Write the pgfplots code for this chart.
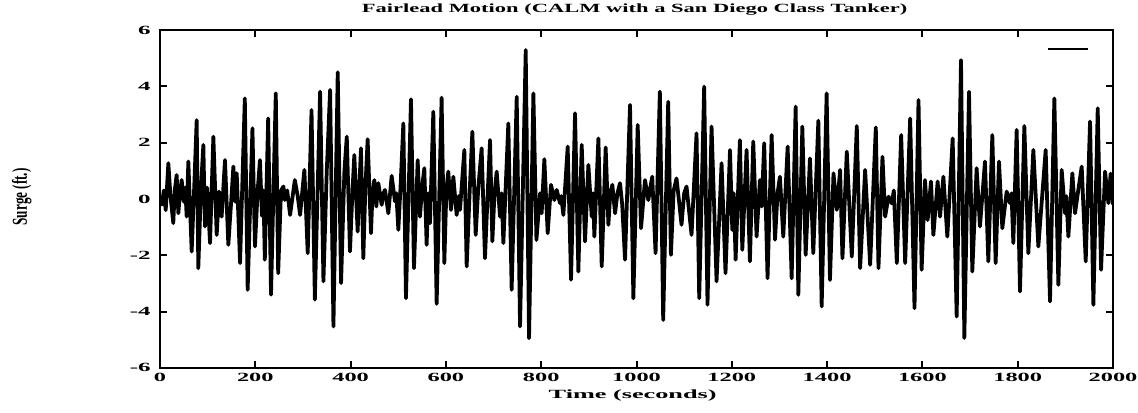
\documentclass[border=0pt]{standalone}
\usepackage{fontspec}
\setmainfont{Liberation Serif}
\usepackage{graphicx}
\usepackage{pgfplots}
\pgfplotsset{compat=1.18}
\pgfplotstableread{
t v
0 0
4 -0.2
8 0.3
12 -0.4
17.5 1.27
22 0.1
27.9 -0.86
31 0.3
35 0.85
38.5 -0.51
42 0.2
45.5 0.67
50 -0.1
53 0.4
56 -0.63
59.5 1.33
66.5 -1.87
72 0.5
77 2.80
80.4 -2.46
86 0.4
91 1.92
94.4 -0.98
99 0.4
105 -1.57
112 2.21
119 -1.28
124 0.26
129.4 -0.63
136.4 1.38
143.4 -1.63
149 -0.2
154 1.15
158 -0.1
161 0.91
164 -0.4
168 -2.28
178 3.57
184 -3.23
194 2.51
199.3 -1.69
205 0.3
209.8 1.38
214 -0.6
217 0.3
220 -2.16
227 2.86
233 -3.4
243 3.75
248 -2.64
254 0.3
259 0.44
262 -0.04
267 0.3
273 -0.57
283 0.67
289 0.1
294 -0.57
303 1.03
310 -1.93
318 3.16
325 -3.58
336 3.81
343 -2.93
350 1.0
357 3.87
364 -4.53
373 4.5
380 -2.99
387 1.0
392 2.21
398.7 -1.87
404 0.3
407.8 1.56
414.8 -1.16
418 0.3
421.8 1.80
426.7 -2.11
431 0.4
435.8 2.12
442.8 -1.22
446 0.2
449.8 0.67
454 -0.27
458.2 0.56
465.2 -0.21
469 0.2
472.2 0.32
479.2 -0.51
486.2 0.82
493.2 -0.09
496 0.2
500.2 -1.10
505 0.5
510.7 2.68
516.2 -3.53
526.7 3.54
533 -2.46
540.8 1.38
545.6 -0.63
550 0.4
554.7 1.09
559.6 -1.63
563 0.2
566.6 -0.86
573.6 3.10
580.6 -3.73
591 3.60
596.7 -2.28
601 0.3
605 0.97
610.7 -0.39
615.6 0.79
622.6 -0.57
627 0.1
629.6 -0.39
638.7 1.74
643.6 -2.40
650 0.3
655.5 2.39
662.5 -1.28
668 0.4
675 1.80
682 -2.11
688 0.3
692.6 2.09
697.5 -1.51
702 0.2
706.6 0.97
713.6 -0.63
717 0.2
720.6 -1.57
731 2.68
738 -3.23
748.6 3.63
755.6 -4.53
767.5 5.29
774.5 -4.95
783.6 3.75
790 -1.46
797.5 0.20
801 -0.51
806.6 1.41
813.6 -1.22
820.6 0.50
827.6 -0.04
832.5 0.32
839.5 -0.15
842 0.1
846.5 -0.57
855.6 1.86
862.6 -2.87
871 3.04
878 -2.58
885 1.92
892 -1.51
899 1.21
906 -0.63
909 0.2
911.5 -1.34
920 2.15
927 -2.40
935.3 1.83
941 -0.92
945 0.2
949.3 0.50
955 -0.51
960 0.2
965.4 0.56
970 -0.2
975.9 -2.16
986.4 3.34
993.4 -3.53
1002.5 2.63
1009.5 -1.04
1017.8 0.67
1024.8 -0.04
1028 0.3
1033 0.79
1040 -1.93
1049 3.81
1056 -4.30
1066.5 3.45
1072.2 -1.99
1078 0.3
1084 0.73
1090 -0.2
1094.5 -0.92
1100 0.2
1105 0.44
1115.5 -1.28
1126 2.33
1131.6 -3.53
1142 3.99
1149 -3.76
1157.5 2.57
1168 -2.93
1178.5 1.27
1186.8 -2.64
1196.2 1.74
1201 -1.10
1204 0.2
1208 -2.16
1217 2.09
1222 -1.81
1231 1.74
1238 -2.22
1245 2.04
1252 -1.34
1259 0.67
1262.7 -0.27
1268 1.98
1275 -2.82
1283.6 2.27
1290.7 -1.45
1296 0.2
1301 0.79
1308 -1.34
1317.2 1.86
1325.6 -2.82
1334 3.28
1339.6 -3.41
1348 2.57
1355 -1.99
1364 1.44
1371 -1.93
1381.6 2.78
1388.6 -3.82
1399 3.75
1406 -2.88
1413.4 0.91
1420.4 -0.39
1427.3 1.03
1432.2 -2.11
1441.3 1.68
1451.8 -2.05
1462.3 2.59
1469.3 -2.46
1479.8 1.03
1490.3 -2.34
1502.2 2.54
1507.8 -2.46
1516.2 1.50
1521.8 -0.63
1528.8 0.08
1535.8 -0.16
1540 0.3
1546.3 -2.28
1555.4 2.27
1563.8 -2.28
1574.3 2.86
1583.4 -3.88
1591.8 3.51
1598.4 -2.52
1605.4 0.67
1611 -0.75
1618 0.62
1623 -1.28
1632 0.62
1637 -0.63
1644 0.79
1652.3 -1.34
1663.5 2.15
1671.9 -4.18
1681 4.93
1688 -4.94
1697.8 3.81
1704.7 -2.58
1713.8 1.09
1720.8 -0.98
1731.3 1.33
1738.3 -2.22
1746.7 2.27
1753.7 -2.28
1760.7 1.33
1767.7 -1.04
1776.8 0.26
1783.8 -0.15
1787 0.2
1790.8 -1.57
1797.8 2.45
1804.8 -3.29
1813.9 2.59
1822.3 -1.93
1832.8 1.74
1843.3 -1.69
1858.7 1.74
1867.8 -3.64
1876.9 3.57
1885.3 -3.05
1892.3 1.03
1899.3 -0.51
1902 0.1
1906.3 -1.34
1914.7 0.91
1920.3 -0.51
1927 0.3
1934.3 1.15
1942.7 -2.22
1951.8 2.75
1958.8 -3.76
1967.9 3.22
1974.9 -2.52
1983.3 0.97
1990.3 -0.15
1995 0.9
2000 -0.2
}\surge
\begin{document}
\begin{tikzpicture}
\begin{axis}[
  name=ax,
  scale only axis,
  width=13.4cm, height=4.75cm,
  xmin=0, xmax=2000, ymin=-6, ymax=6,
  xtick={0,200,...,2000}, ytick={-6,-4,...,6},
  tick align=inside,
  major tick length=0.1cm,
  axis line style={line width=0.9pt},
  every tick/.style={line width=0.8pt, black},
  xticklabel={\scalebox{1.95}[1]{\bfseries\pgfmathprintnumber[assume math mode=true,1000 sep={}]{\tick}}},
  yticklabel={\scalebox{2.0}[1]{\bfseries\pgfmathprintnumber[assume math mode=true]{\tick}}},
  ticklabel style={font=\fontsize{5}{6}\selectfont, inner sep=0pt},
  xticklabel style={yshift=-2pt},
  yticklabel style={xshift=-3.5pt},
  every axis title shift=0pt,
  title={\scalebox{1.8}[1]{\bfseries Fairlead Motion (CALM with a San Diego Class Tanker)}},
  title style={font=\fontsize{5}{6}\selectfont, inner sep=0pt, at={(axis description cs:0.498,1.062)}, anchor=center},
  xlabel={\scalebox{2.1}[1]{\bfseries Time (seconds)}},
  xlabel style={font=\fontsize{5}{6}\selectfont, inner sep=0pt, at={(axis description cs:-0.0+0.496,-0.083)}, anchor=center},
  ylabel={\scalebox{0.62}[1]{\bfseries Surge (ft.)}},
  every axis y label/.style={font=\fontsize{8.5}{9}\selectfont, inner sep=0pt, at={(axis description cs:-0.145,0.506)}, rotate=90, anchor=center},
  legend style={at={(axis description cs:0.978,0.944)}, anchor=east, draw=none, fill=none, inner sep=0pt, nodes={inner sep=0pt}},
  legend image code/.code={\draw[black,line width=0.6pt](0cm,0cm)--(0.56cm,0cm);},
]
\addplot[black, line width=1.5pt, line join=round] table[x=t,y=v] {\surge};
\addlegendentry{}
\end{axis}
\path (ax.south west) +(-2.2496cm,-0.6327cm) (ax.north east) +(0.3515cm,0.4218cm);
\end{tikzpicture}
\end{document}
